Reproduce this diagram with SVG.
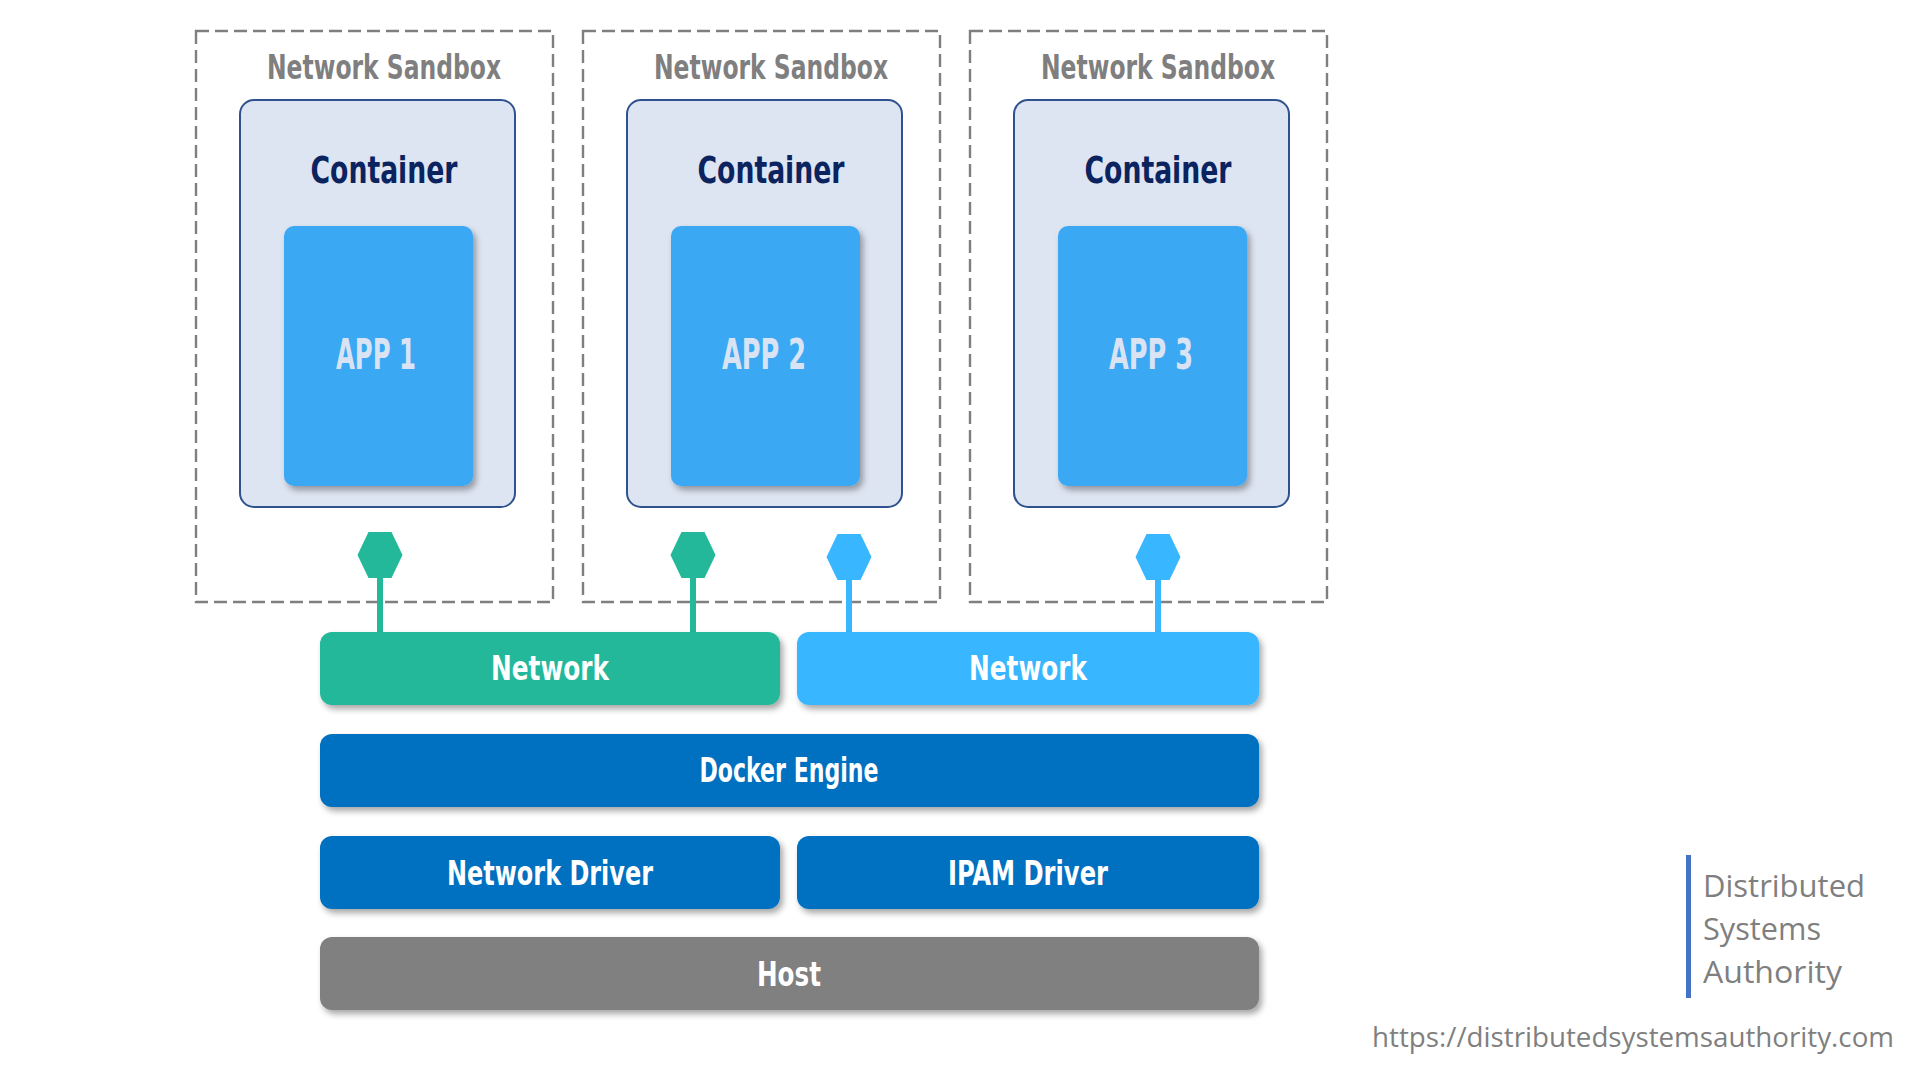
<svg xmlns="http://www.w3.org/2000/svg" width="1920" height="1080" viewBox="0 0 1920 1080">
<defs>
<filter id="sh" x="-10%" y="-10%" width="130%" height="140%">
<feDropShadow dx="3" dy="4" stdDeviation="3" flood-color="#000" flood-opacity="0.35"/>
</filter>
<style>
.sandbox{fill:none;stroke:#7F7F7F;stroke-width:2.4;stroke-dasharray:13 6}
.cont{fill:#DEE5F2;stroke:#2F528F;stroke-width:2}
.app{fill:#3AA8F4;filter:url(#sh)}
.hand{font-family:"Liberation Sans Narrow","DejaVu Sans Condensed","Liberation Sans",sans-serif;font-weight:bold;text-anchor:middle}
.sbt{fill:#7F7F7F;font-size:33px}
.ct{fill:#0B2460;font-size:38px}
.at{fill:#DAE3F3;font-size:42px}
.bt{fill:#FFFFFF;font-size:34px}
.green{fill:#23B899}
.blue{fill:#38B6FF}
.dark{fill:#0070C0}
.gray{fill:#808080}
.bar{filter:url(#sh)}
.gl{stroke:#23B899;stroke-width:6}
.bl{stroke:#38B6FF;stroke-width:6}
.foot{font-family:"Open Sans","Noto Sans","Liberation Sans",sans-serif;fill:#7F7F7F}
</style>
</defs>
<rect width="1920" height="1080" fill="#FFFFFF"/>

<g id="sandbox1">
<rect class="sandbox" x="196" y="31" width="357" height="571"/>
<text class="hand sbt" x="384" y="79" textLength="234" lengthAdjust="spacingAndGlyphs">Network Sandbox</text>
</g>
<g id="sandbox2">
<rect class="sandbox" x="583" y="31" width="357" height="571"/>
<text class="hand sbt" x="771" y="79" textLength="234" lengthAdjust="spacingAndGlyphs">Network Sandbox</text>
</g>
<g id="sandbox3">
<rect class="sandbox" x="970" y="31" width="357" height="571"/>
<text class="hand sbt" x="1158" y="79" textLength="234" lengthAdjust="spacingAndGlyphs">Network Sandbox</text>
</g>

<g id="container1">
<rect class="cont" x="240" y="100" width="275" height="407" rx="14"/>
<text class="hand ct" x="384" y="183" textLength="147" lengthAdjust="spacingAndGlyphs">Container</text>
</g>
<g id="container2">
<rect class="cont" x="627" y="100" width="275" height="407" rx="14"/>
<text class="hand ct" x="771" y="183" textLength="147" lengthAdjust="spacingAndGlyphs">Container</text>
</g>
<g id="container3">
<rect class="cont" x="1014" y="100" width="275" height="407" rx="14"/>
<text class="hand ct" x="1158" y="183" textLength="147" lengthAdjust="spacingAndGlyphs">Container</text>
</g>

<g id="app1">
<rect class="app" x="284" y="226" width="189" height="260" rx="10"/>
<text class="hand at" x="376" y="369" textLength="80" lengthAdjust="spacingAndGlyphs">APP 1</text>
</g>
<g id="app2">
<rect class="app" x="671" y="226" width="189" height="260" rx="10"/>
<text class="hand at" x="764" y="369" textLength="84" lengthAdjust="spacingAndGlyphs">APP 2</text>
</g>
<g id="app3">
<rect class="app" x="1058" y="226" width="189" height="260" rx="10"/>
<text class="hand at" x="1151" y="369" textLength="84" lengthAdjust="spacingAndGlyphs">APP 3</text>
</g>

<g id="connectors">
<line class="gl" x1="380" y1="575" x2="380" y2="634"/>
<line class="gl" x1="693" y1="575" x2="693" y2="634"/>
<line class="bl" x1="849" y1="577" x2="849" y2="634"/>
<line class="bl" x1="1158" y1="577" x2="1158" y2="634"/>
</g>

<g id="endpoints">
<polygon id="ep1" class="green" points="357.5,555 368.5,532 391.5,532 402.5,555 391.5,578 368.5,578"/>
<polygon id="ep2" class="green" points="670.5,555 681.5,532 704.5,532 715.5,555 704.5,578 681.5,578"/>
<polygon id="ep3" class="blue" points="826.5,557 837.5,534 860.5,534 871.5,557 860.5,580 837.5,580"/>
<polygon id="ep4" class="blue" points="1135.5,557 1146.5,534 1169.5,534 1180.5,557 1169.5,580 1146.5,580"/>
</g>

<g id="network-green">
<rect class="green bar" x="320" y="632" width="460" height="73" rx="12"/>
<text class="hand bt" x="550" y="680" textLength="118" lengthAdjust="spacingAndGlyphs">Network</text>
</g>
<g id="network-blue">
<rect class="blue bar" x="797" y="632" width="462" height="73" rx="12"/>
<text class="hand bt" x="1028" y="680" textLength="118" lengthAdjust="spacingAndGlyphs">Network</text>
</g>
<g id="docker-engine">
<rect class="dark bar" x="320" y="734" width="939" height="73" rx="12"/>
<text class="hand bt" x="789" y="782" textLength="179" lengthAdjust="spacingAndGlyphs">Docker Engine</text>
</g>
<g id="network-driver">
<rect class="dark bar" x="320" y="836" width="460" height="73" rx="12"/>
<text class="hand bt" x="550" y="885" textLength="206" lengthAdjust="spacingAndGlyphs">Network Driver</text>
</g>
<g id="ipam-driver">
<rect class="dark bar" x="797" y="836" width="462" height="73" rx="12"/>
<text class="hand bt" x="1028" y="885" textLength="160" lengthAdjust="spacingAndGlyphs">IPAM Driver</text>
</g>
<g id="host">
<rect class="gray bar" x="320" y="937" width="939" height="73" rx="12"/>
<text class="hand bt" x="789" y="986" textLength="64" lengthAdjust="spacingAndGlyphs">Host</text>
</g>

<g id="branding">
<rect x="1686" y="855" width="5" height="143" fill="#4472C4"/>
<text class="foot" x="1703" y="897" font-size="31" textLength="162" lengthAdjust="spacingAndGlyphs">Distributed</text>
<text class="foot" x="1703" y="940" font-size="31" textLength="118" lengthAdjust="spacingAndGlyphs">Systems</text>
<text class="foot" x="1703" y="983" font-size="31" textLength="139" lengthAdjust="spacingAndGlyphs">Authority</text>
<text class="foot" x="1372" y="1047" font-size="27" textLength="522" lengthAdjust="spacingAndGlyphs">https://distributedsystemsauthority.com</text>
</g>
</svg>
